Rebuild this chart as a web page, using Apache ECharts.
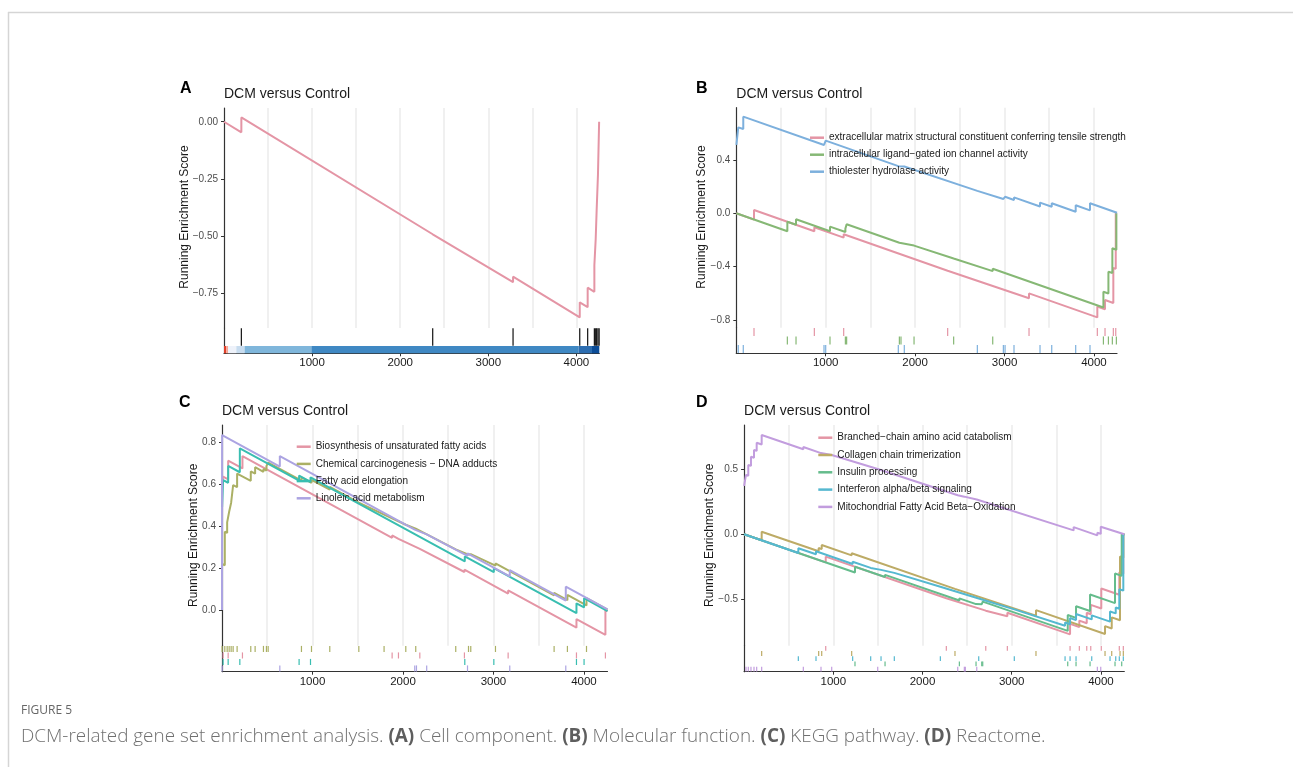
<!DOCTYPE html>
<html>
<head>
<meta charset="utf-8">
<script src="https://cdn.jsdelivr.net/npm/echarts@6/dist/echarts.min.js"></script>
<style>
  html, body { margin: 0; padding: 0; background: #fff; }
  #main { width: 1293px; height: 767px; }
</style>
</head>
<body>
<div id="main"></div>
<script>
// ---- axis ticks ----
var xTicks = [1000, 2000, 3000, 4000];
var xGridLines = [500, 1000, 1500, 2000, 2500, 3000, 3500, 4000];
var yTicksA = [-0.75, -0.5, -0.25, 0];
var yTicksB = [-0.8, -0.4, 0, 0.4];
var yTicksC = [0, 0.2, 0.4, 0.6, 0.8];
var yTicksD = [-0.5, 0, 0.5];

// ---- A: cell component ----
var esA = [[0,0],[197,-0.046],[197,0.019],[2369,-0.491],[2369,-0.486],[3281,-0.700],[3281,-0.676],[4038,-0.854],[4038,-0.788],[4128,-0.809],[4128,-0.724],[4204,-0.742],[4204,-0.626],[4219,-0.630],[4219,-0.513],[4230,-0.516],[4230,-0.385],[4245,-0.388],[4245,-0.229],[4258,-0.232],[4258,0]];
var hitsA = [197, 2369, 3281, 4038, 4128, 4204, 4219, 4230, 4245, 4258];
// ranked list colour bins (edges in gene rank)
var rankEdgesA = [0, 25, 46, 140, 234, 992, 4025, 4177, 4260];

// ---- B: molecular function ----
var namesB = ['extracellular matrix structural constituent conferring tensile strength', 'intracellular ligand\u2212gated ion channel activity', 'thiolester hydrolase activity'];
var esB1 = [[0,0],[198,-0.047],[198,0.025],[873,-0.134],[873,-0.105],[1201,-0.182],[1201,-0.157],[2364,-0.430],[2364,-0.422],[3274,-0.636],[3274,-0.600],[4038,-0.780],[4038,-0.699],[4124,-0.719],[4124,-0.650],[4217,-0.672],[4217,-0.410],[4244,-0.416],[4244,0],[4258,-0.003]];
var esB2 = [[0,0],[571,-0.134],[571,-0.063],[668,-0.086],[668,-0.045],[1048,-0.134],[1048,-0.100],[1220,-0.140],[1220,-0.115],[1234,-0.118],[1234,-0.082],[1824,-0.221],[1824,-0.210],[1842,-0.214],[1842,-0.208],[1988,-0.242],[1988,-0.235],[2431,-0.339],[2431,-0.330],[2868,-0.433],[2868,-0.415],[4106,-0.706],[4106,-0.588],[4162,-0.601],[4162,-0.437],[4206,-0.447],[4206,-0.262],[4251,-0.273],[4251,0],[4258,0]];
var esB3 = [[1,0.512],[22,0.507],[22,0.644],[78,0.631],[78,0.724],[981,0.512],[981,0.525],[1000,0.521],[1000,0.544],[1812,0.353],[1812,0.365],[1879,0.350],[1879,0.360],[2696,0.168],[2696,0.175],[2987,0.107],[2987,0.117],[3006,0.113],[3006,0.124],[3106,0.100],[3106,0.119],[3397,0.051],[3397,0.080],[3528,0.049],[3528,0.075],[3796,0.012],[3796,0.060],[3956,0.022],[3956,0.075],[4258,0.004]];
var hitsB1 = [198, 873, 1201, 2364, 3274, 4038, 4124, 4217, 4244];
var hitsB2 = [571, 668, 1048, 1220, 1234, 1824, 1842, 1988, 2431, 2868, 4106, 4162, 4206, 4251];
var hitsB3 = [22, 78, 981, 1000, 1812, 1879, 2696, 2987, 3006, 3106, 3397, 3528, 3796, 3956];

// ---- C: KEGG pathway ----
var namesC = ['Biosynthesis of unsaturated fatty acids', 'Chemical carcinogenesis \u2212 DNA adducts', 'Fatty acid elongation', 'Linoleic acid metabolism'];
var esC1 = [[1,0.600],[12,0.597],[12,0.635],[68,0.622],[68,0.711],[226,0.674],[226,0.733],[1880,0.344],[1880,0.355],[1950,0.339],[1950,0.347],[2186,0.291],[2186,0.297],[2679,0.181],[2679,0.192],[3162,0.078],[3162,0.093],[3917,-0.084],[3917,-0.043],[4237,-0.118],[4237,0],[4260,-0.005]];
var esC2 = [[1,0.220],[31,0.213],[31,0.373],[57,0.367],[57,0.417],[79,0.412],[79,0.468],[101,0.463],[101,0.511],[123,0.506],[123,0.595],[167,0.585],[167,0.650],[318,0.615],[318,0.660],[366,0.649],[366,0.680],[458,0.658],[458,0.672],[491,0.664],[491,0.685],[510,0.681],[510,0.702],[878,0.616],[878,0.632],[989,0.606],[989,0.620],[1191,0.573],[1191,0.586],[1512,0.511],[1512,0.520],[1791,0.454],[1791,0.462],[2031,0.406],[2031,0.413],[2141,0.387],[2141,0.393],[2583,0.289],[2583,0.297],[2724,0.264],[2724,0.272],[2749,0.266],[2749,0.275],[3022,0.211],[3022,0.222],[3670,0.070],[3670,0.082],[3817,0.047],[3817,0.072],[4028,0.022],[4028,0.056],[4260,0.002]];
var esC3 = [[1,0.490],[12,0.487],[12,0.619],[68,0.606],[68,0.686],[197,0.656],[197,0.770],[852,0.616],[852,0.640],[978,0.610],[978,0.632],[2683,0.231],[2683,0.255],[3004,0.180],[3004,0.200],[3917,-0.015],[3917,0.032],[4001,0.012],[4001,0.056],[4260,-0.005]];
var esC4 = [[0,0],[1,0.833],[639,0.683],[639,0.733],[2130,0.383],[2130,0.387],[2149,0.383],[2149,0.387],[2262,0.360],[2262,0.364],[2713,0.258],[2713,0.270],[3180,0.160],[3180,0.190],[3799,0.045],[3799,0.111],[4260,0.003]];
var hitsC1 = [12, 68, 226, 1880, 1950, 2186, 2679, 3162, 3917, 4237];
var hitsC2 = [1, 31, 57, 79, 101, 123, 167, 318, 366, 458, 491, 510, 878, 989, 1191, 1512, 1791, 2031, 2141, 2583, 2724, 2749, 3022, 3670, 3817, 4028];
var hitsC3 = [12, 68, 197, 852, 978, 2683, 3004, 3917, 4001];
var hitsC4 = [1, 639, 2130, 2149, 2262, 2713, 3180, 3799];

// ---- D: Reactome ----
var namesD = ['Branched\u2212chain amino acid catabolism', 'Collagen chain trimerization', 'Insulin processing', 'Interferon alpha/beta signaling', 'Mitochondrial Fatty Acid Beta\u2212Oxidation'];
var esD1 = [[0,0],[915,-0.215],[915,-0.171],[2267,-0.489],[2267,-0.480],[2709,-0.584],[2709,-0.570],[2951,-0.627],[2951,-0.600],[3654,-0.765],[3654,-0.685],[3758,-0.709],[3758,-0.660],[3841,-0.680],[3841,-0.600],[3886,-0.611],[3886,-0.540],[4004,-0.568],[4004,-0.415],[4206,-0.462],[4206,-0.290],[4251,-0.301],[4251,0],[4262,-0.002]];
var esD2 = [[0,0],[197,-0.046],[197,0.020],[836,-0.130],[836,-0.105],[870,-0.113],[870,-0.082],[1206,-0.161],[1206,-0.145],[2364,-0.417],[2364,-0.410],[3272,-0.623],[3272,-0.580],[4046,-0.762],[4046,-0.702],[4121,-0.720],[4121,-0.635],[4214,-0.657],[4214,-0.170],[4251,-0.179],[4251,0],[4262,-0.002]];
var esD3 = [[0,0],[1243,-0.292],[1243,-0.248],[1580,-0.327],[1580,-0.310],[2413,-0.506],[2413,-0.490],[2600,-0.534],[2600,-0.520],[2664,-0.535],[2664,-0.525],[2675,-0.528],[2675,-0.515],[3628,-0.739],[3628,-0.617],[3721,-0.639],[3721,-0.550],[3878,-0.587],[3878,-0.460],[4158,-0.526],[4158,-0.300],[4233,-0.318],[4233,0],[4262,-0.007]];
var esD4 = [[0,0],[608,-0.143],[608,-0.107],[806,-0.153],[806,-0.130],[1217,-0.227],[1217,-0.210],[1419,-0.257],[1419,-0.245],[1535,-0.272],[1535,-0.260],[1684,-0.295],[1684,-0.280],[2200,-0.401],[2200,-0.390],[2630,-0.491],[2630,-0.480],[3029,-0.574],[3029,-0.565],[3598,-0.699],[3598,-0.675],[3654,-0.688],[3654,-0.640],[3721,-0.656],[3721,-0.610],[3897,-0.651],[3897,-0.620],[4102,-0.668],[4102,-0.590],[4166,-0.605],[4166,-0.560],[4206,-0.569],[4206,-0.420],[4251,-0.431],[4251,0],[4262,-0.003]];
var esD5 = [[0,0.370],[21,0.365],[21,0.454],[47,0.448],[47,0.530],[77,0.523],[77,0.594],[111,0.586],[111,0.645],[141,0.638],[141,0.700],[197,0.687],[197,0.760],[664,0.650],[664,0.668],[862,0.621],[862,0.635],[982,0.607],[982,0.620],[1498,0.499],[1498,0.510],[2395,0.299],[2395,0.305],[2469,0.288],[2469,0.293],[2480,0.290],[2480,0.296],[2608,0.266],[2608,0.272],[3694,0.030],[3694,0.055],[3960,-0.008],[3960,0.012],[3998,0.003],[3998,0.058],[4262,0]];
var hitsD1 = [915, 2267, 2709, 2951, 3654, 3758, 3841, 3886, 4004, 4206, 4251];
var hitsD2 = [197, 836, 870, 1206, 2364, 3272, 4046, 4121, 4214, 4251];
var hitsD3 = [1243, 1580, 2413, 2600, 2664, 2675, 3628, 3721, 3878, 4158, 4233];
var hitsD4 = [608, 806, 1217, 1419, 1535, 1684, 2200, 2630, 3029, 3598, 3654, 3721, 3897, 4102, 4166, 4206, 4251];
var hitsD5 = [21, 47, 77, 111, 141, 197, 664, 862, 982, 1498, 2395, 2469, 2480, 2608, 3960, 3998];

// ---- styles ----
var FONT = 'Liberation Sans, Arial, Helvetica, sans-serif';
var CAP_FONT = '"Open Sans", Lato, sans-serif';
var AXIS_COLOR = '#333333';
var rankColorsA = ['#e0402b', '#f6a593', '#eef2fa', '#c8dcef', '#7fb6db', '#3f88c3', '#2c6db0', '#0c4d98'];
var colorsB = ['#E495A5', '#86B875', '#7DB0DD'];
var colorsC = ['#E495A5', '#ABB065', '#39BEB1', '#ACA4E2'];
var colorsD = ['#E495A5', '#BDAB66', '#65BC8C', '#55B8D0', '#C29DDE'];

function fmt(dec) {
  return function(v) { return (v < 0 ? '\u2212' : '') + Math.abs(v).toFixed(dec); };
}

var grid = [], xAxis = [], yAxis = [], series = [], legend = [], graphic = [];

function addPanel(p) {
  var gi = grid.length, xi = xAxis.length, yi = yAxis.length;
  grid.push({left: p.left, top: p.top, width: p.width, height: p.upperH, outerBoundsMode: 'none'});
  grid.push({left: p.left, top: p.top + p.upperH, width: p.width, height: p.rugH, outerBoundsMode: 'none'});
  // upper panel x: only light vertical grid lines
  xAxis.push({
    gridIndex: gi, type: 'value', min: 0, max: p.xMax,
    axisLine: {show: false}, axisLabel: {show: false},
    axisTick: {show: false, customValues: xGridLines},
    splitLine: {show: true, lineStyle: {color: '#ebebeb', width: 1.5}}
  });
  // bottom (rug) x: the real axis
  xAxis.push({
    gridIndex: gi + 1, type: 'value', min: 0, max: p.xMax,
    axisLine: {show: true, onZero: false, lineStyle: {color: AXIS_COLOR, width: 1.2}},
    axisTick: {show: true, length: 3, customValues: xTicks, lineStyle: {color: AXIS_COLOR}},
    axisLabel: {customValues: xTicks, formatter: function(v) { return String(v); },
      fontSize: 11.5, color: '#1a1a1a', margin: 4, fontFamily: FONT},
    splitLine: {show: false}
  });
  yAxis.push({
    gridIndex: gi, type: 'value', min: p.yMin, max: p.yMax,
    axisLine: {show: true, onZero: false, lineStyle: {color: AXIS_COLOR, width: 1.2}},
    axisTick: {show: true, length: 3, customValues: p.yTicks, lineStyle: {color: AXIS_COLOR}},
    axisLabel: {customValues: p.yTicks, formatter: fmt(p.dec), fontSize: 10, color: '#4d4d4d', margin: 6, fontFamily: FONT},
    splitLine: {show: false}
  });
  yAxis.push({
    gridIndex: gi + 1, type: 'value', min: 0, max: p.rugH, inverse: true,
    axisLine: {show: true, onZero: false, lineStyle: {color: AXIS_COLOR, width: 1.2}},
    axisTick: {show: false}, axisLabel: {show: false}, splitLine: {show: false}
  });

  var n = p.sets.length;
  var rowH = p.rugRows / n;
  p.sets.forEach(function(s) {
    series.push({
      type: 'line', name: s.name, xAxisIndex: xi, yAxisIndex: yi,
      data: s.es, showSymbol: false, symbol: 'none', silent: true,
      color: s.color, lineStyle: {width: 2, color: s.color}, z: 3
    });
  });
  p.sets.forEach(function(s) {
    var row = s.row;
    var rug = {
      type: 'scatter', xAxisIndex: xi + 1, yAxisIndex: yi + 1, silent: true,
      data: s.hits.map(function(h) { return [h, (row + 0.5) * rowH]; }),
      symbol: 'rect', symbolSize: [1.2, rowH - 0.4],
      itemStyle: {color: s.rugColor || s.color, opacity: 1}, z: 4
    };
    if (s.bar) rug.markArea = s.bar;
    series.push(rug);
  });

  if (p.legend) {
    legend.push({
      orient: 'vertical', left: p.legend.left, top: p.legend.top,
      data: p.sets.map(function(s) { return s.name; }),
      icon: 'rect', itemWidth: 14, itemHeight: 2.5, itemGap: p.legend.gap,
      padding: 0, selectedMode: false,
      textStyle: {fontSize: 10, color: '#1a1a1a', lineHeight: 12, fontFamily: FONT}
    });
  }

  graphic.push({type: 'text', x: p.letter[1], y: p.letter[2],
    style: {text: p.letter[0], font: 'bold 16px ' + FONT, fill: '#000', verticalAlign: 'middle'}});
  graphic.push({type: 'text', x: p.left, y: p.titleY,
    style: {text: 'DCM versus Control', font: '14px ' + FONT, fill: '#1a1a1a', verticalAlign: 'middle'}});
  graphic.push({type: 'text', x: p.yName[0], y: p.yName[1], rotation: Math.PI / 2,
    style: {text: 'Running Enrichment Score', font: '12px ' + FONT, fill: '#1a1a1a', align: 'center', verticalAlign: 'middle'}});
}

// colour bar of the ranked list, as mark areas in the rug band of A
var barA = {
  silent: true,
  data: rankColorsA.map(function(c, i) {
    return [{coord: [rankEdgesA[i], 18], itemStyle: {color: c, opacity: 1, borderWidth: 0}},
            {coord: [rankEdgesA[i + 1], 25.3]}];
  })
};

addPanel({
  left: 224, width: 375.3, top: 108, upperH: 220, rugH: 25.3, rugRows: 18,
  xMax: 4260, yMin: -0.9, yMax: 0.06, yTicks: yTicksA, dec: 2,
  letter: ['A', 180, 88.5], titleY: 94, yName: [184.3, 217],
  sets: [{name: 'A', es: esA, hits: hitsA, color: '#E495A5', rugColor: '#111111', row: 0, bar: barA}]
});
addPanel({
  left: 736.3, width: 380.7, top: 107.7, upperH: 220, rugH: 25.6, rugRows: 25.6,
  xMax: 4258, yMin: -0.857, yMax: 0.791, yTicks: yTicksB, dec: 1,
  letter: ['B', 696, 88.5], titleY: 94, yName: [702, 217],
  legend: {left: 810, top: 131.7, gap: 5},
  sets: namesB.map(function(nm, i) {
    return {name: nm, es: [esB1, esB2, esB3][i], hits: [hitsB1, hitsB2, hitsB3][i], color: colorsB[i], row: i};
  })
});
addPanel({
  left: 222, width: 385.5, top: 425, upperH: 220.7, rugH: 26, rugRows: 26,
  xMax: 4260, yMin: -0.17, yMax: 0.881, yTicks: yTicksC, dec: 1,
  letter: ['C', 179, 403], titleY: 411.5, yName: [193.3, 535.3],
  legend: {left: 296.7, top: 440.7, gap: 5.2},
  sets: namesC.map(function(nm, i) {
    return {name: nm, es: [esC1, esC2, esC3, esC4][i], hits: [hitsC1, hitsC2, hitsC3, hitsC4][i], color: colorsC[i], row: [1, 0, 2, 3][i]};
  })
});
addPanel({
  left: 744.1, width: 380.2, top: 425, upperH: 220.7, rugH: 26, rugRows: 26,
  xMax: 4262, yMin: -0.852, yMax: 0.836, yTicks: yTicksD, dec: 1,
  letter: ['D', 696, 403], titleY: 411.5, yName: [710, 535.3],
  legend: {left: 818.3, top: 431.7, gap: 5.3},
  sets: namesD.map(function(nm, i) {
    return {name: nm, es: [esD1, esD2, esD3, esD4, esD5][i], hits: [hitsD1, hitsD2, hitsD3, hitsD4, hitsD5][i], color: colorsD[i], row: [0, 1, 3, 2, 4][i]};
  })
});

// page frame and caption
graphic.push({type: 'line', shape: {x1: 8, y1: 12.5, x2: 1293, y2: 12.5}, style: {stroke: '#d5d5d5', lineWidth: 1.5}});
graphic.push({type: 'line', shape: {x1: 8.5, y1: 12, x2: 8.5, y2: 767}, style: {stroke: '#d5d5d5', lineWidth: 1.5}});
graphic.push({type: 'text', x: 21, y: 711,
  style: {text: 'FIGURE 5', font: '12px ' + CAP_FONT, fill: '#666666', verticalAlign: 'middle'}});
graphic.push({type: 'text', x: 21, y: 737,
  style: {
    text: 'DCM-related gene set enrichment analysis. {b|(A)} Cell component. {b|(B)} Molecular function. {b|(C)} KEGG pathway. {b|(D)} Reactome.',
    font: '300 18.9px ' + CAP_FONT, fill: '#707070', verticalAlign: 'middle',
    rich: {b: {font: 'bold 18.9px ' + CAP_FONT, fill: '#5e5e5e'}}
  }});

var chart = echarts.init(document.getElementById('main'), null, {renderer: 'canvas'});
chart.setOption({
  backgroundColor: '#ffffff',
  animation: false,
  textStyle: {fontFamily: FONT},
  grid: grid,
  xAxis: xAxis,
  yAxis: yAxis,
  legend: legend,
  series: series,
  graphic: graphic
});
</script>
</body>
</html>
